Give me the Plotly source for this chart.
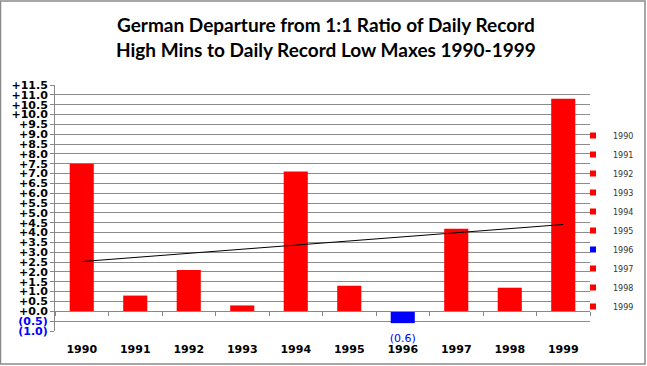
import numpy as np
import plotly.graph_objects as go

years = ["1990", "1991", "1992", "1993", "1994", "1995", "1996", "1997", "1998", "1999"]
values = [7.5, 0.8, 2.1, 0.3, 7.1, 1.3, -0.6, 4.2, 1.2, 10.8]
tick_vals = [round(-1.0 + 0.5 * i, 1) for i in range(26)]

RED = "#FF0000"
BLUE = "#0000FF"
colors = [BLUE if v < 0 else RED for v in values]

W, H = 647, 366
ML, MR, MT, MB = 55, 57, 85, 35
PW, PH = W - ML - MR, H - MT - MB
YMIN, YMAX = -1.0, 11.5


def fmt_tick(v):
    if v < 0:
        return '<span style="color:#0000FF">(%.1f)</span>' % abs(v)
    return "+%.1f" % v


fig = go.Figure()
fig.add_trace(go.Bar(x=years, y=values, marker=dict(color=colors, line=dict(width=0)),
                     showlegend=False, hoverinfo="x+y"))

# trend line (linear regression of the series)
xi = np.arange(len(values))
slope, intercept = np.polyfit(xi, values, 1)
fig.add_trace(go.Scatter(x=[years[0], years[-1]],
                         y=[intercept, intercept + slope * xi[-1]],
                         mode="lines", line=dict(color="black", width=1),
                         showlegend=False, hoverinfo="skip"))

# legend entries
for yr, c in zip(years, colors):
    fig.add_trace(go.Scatter(x=[None], y=[None], mode="markers", name=yr,
                             marker=dict(symbol="square", size=6, color=c)))

# data labels (positive above the bar)
for yr, v in zip(years, values):
    if v >= 0:
        fig.add_annotation(x=yr, y=v, text="+%.1f" % v, showarrow=False,
                           yanchor="bottom", yshift=4,
                           font=dict(family="DejaVu Sans", size=11, color="black"))

# data labels (negative below the bar)
neg_x = [yr for yr, v in zip(years, values) if v < 0]
neg_y = [v for v in values if v < 0]
fig.add_trace(go.Scatter(x=neg_x, y=neg_y, mode="markers+text",
                         marker=dict(size=16, opacity=0),
                         text=["(%.1f)" % abs(v) for v in neg_y],
                         textposition="bottom center", cliponaxis=False,
                         textfont=dict(family="DejaVu Sans", size=11, color=BLUE),
                         showlegend=False, hoverinfo="skip"))

# title
fig.add_annotation(xref="paper", yref="paper", x=(W / 2 - ML + 2) / PW, y=(PH + MT - 11) / PH,
                   xanchor="center", yanchor="top", showarrow=False,
                   text="German Departure from 1:1 Ratio of Daily Record<br>High Mins to Daily Record Low Maxes 1990-1999",
                   font=dict(family="Lato", size=19, color="black", weight="bold"))

# outer border
fig.add_shape(type="rect", xref="paper", yref="paper",
              x0=(-ML + 0.5) / PW, x1=(W - ML - 2) / PW,
              y0=(-MB + 2) / PH, y1=(PH + MT - 1) / PH,
              line=dict(color="#8a8a8a", width=1.5), fillcolor="rgba(0,0,0,0)", layer="below")

fig.update_layout(
    width=W, height=H,
    margin=dict(l=ML, r=MR, t=MT, b=MB, pad=0, autoexpand=False),
    paper_bgcolor="white", plot_bgcolor="white",
    bargap=0.55,
    legend=dict(x=(573 - ML) / PW, y=1 - (121 - MT) / PH, xanchor="left", yanchor="top",
                font=dict(family="DejaVu Sans", size=8, color="#333333"),
                bgcolor="rgba(0,0,0,0)", itemwidth=30, tracegroupgap=0),
    xaxis=dict(type="category", showgrid=False, showline=False, ticks="",
               tickfont=dict(family="DejaVu Sans", size=11, color="black", weight="bold"),
               ticklabelstandoff=10, range=[-0.5, 9.5], automargin=False),
    xaxis2=dict(type="category", overlaying="x", anchor="free", position=(0 - YMIN) / (YMAX - YMIN),
                side="bottom", showline=True, linecolor="#888888", linewidth=1,
                ticks="outside", ticklen=4, tickcolor="#888888", tickson="boundaries",
                showticklabels=False, showgrid=False, categoryarray=years, range=[-0.5, 9.5],
                automargin=False),
    yaxis=dict(range=[YMIN, YMAX], tickvals=tick_vals, ticktext=[fmt_tick(v) for v in tick_vals],
               showgrid=True, gridcolor="#8c8c8c", gridwidth=1,
               showline=True, linecolor="#888888", linewidth=1,
               ticks="outside", ticklen=4, tickcolor="#888888",
               zeroline=False, automargin=False,
               tickfont=dict(family="DejaVu Sans", size=11, color="black", weight="bold")),
)
# dummy trace to activate xaxis2
fig.add_trace(go.Scatter(x=years, y=[None] * len(years), xaxis="x2", showlegend=False,
                         hoverinfo="skip", mode="lines"))

fig.write_html("out.html", config={"displayModeBar": False},
               post_script="document.body.style.margin='0';document.body.style.overflow='hidden';")
